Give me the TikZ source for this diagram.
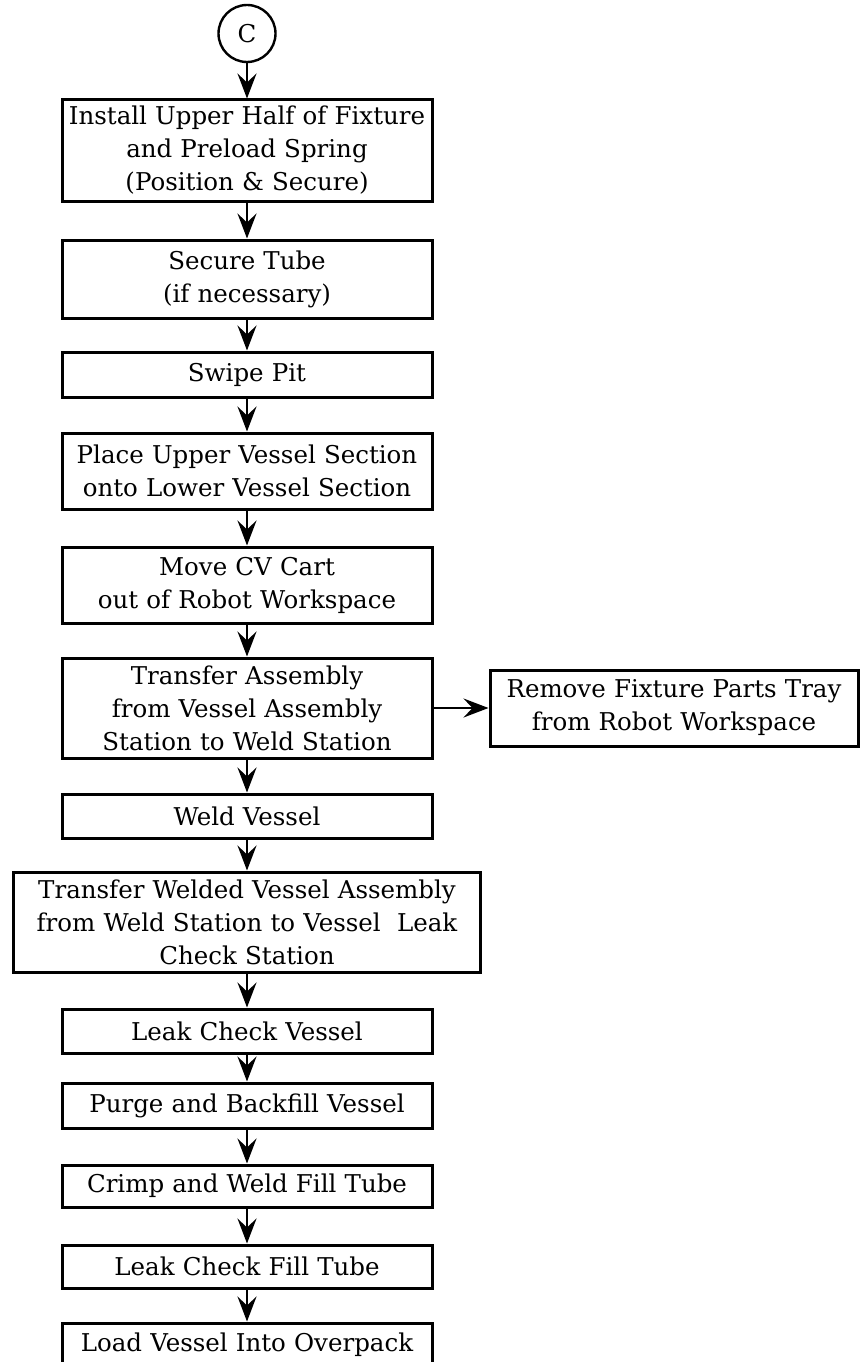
\documentclass[tikz,border=0pt]{standalone}
\usepackage{fontspec}
\setmainfont{DejaVu Serif}
\usepackage{tikz}
\usetikzlibrary{shapes,arrows.meta}
\tikzstyle{block} = [rectangle, draw, line width=3pt, text width=360pt, text centered,
    inner xsep=5pt, inner ysep=0pt, minimum height=44pt, font=\fontsize{24.5}{33}\selectfont]
\tikzstyle{wideblock} = [block, text width=457pt]
\tikzstyle{connector} = [circle, draw, line width=2.4pt, minimum size=57pt, inner sep=0pt,
    font=\fontsize{24.5}{33}\selectfont]
\tikzstyle{line} = [draw, line width=2.4pt, -{Stealth[length=25pt, width=19pt, inset=9pt]}]

\begin{document}
\begin{tikzpicture}[x=1pt, y=1pt, node distance=100pt, auto]
    \useasboundingbox (0,0) rectangle (860,-1362);
    \clip (0,0) rectangle (860,-1362);
    % Place nodes
    \node [connector] (conC) at (247,-33.5) {C};
    \node [block, below of=conC, node distance=117pt, minimum height=101pt] (upper) {Install Upper Half of Fixture\\ and Preload Spring\\ (Position \& Secure)};
    \node [block, below of=upper, node distance=128.5pt, minimum height=78pt] (tube) {Secure Tube\\ (if necessary)};
    \node [block, below of=tube, node distance=95.5pt, minimum height=45pt] (swipe) {Swipe Pit};
    \node [block, below of=swipe, node distance=96.5pt, minimum height=76pt] (place) {Place Upper Vessel Section\\ onto Lower Vessel Section};
    \node [block, below of=place, node distance=114pt, minimum height=76pt] (cart) {Move CV Cart\\ out of Robot Workspace};
    \node [block, below of=cart, node distance=123pt, minimum height=100pt] (transfer) {Transfer Assembly\\ from Vessel Assembly\\ Station to Weld Station};
    \node [block, right of=transfer, node distance=427pt, text width=358pt, minimum height=76pt] (tray) {Remove Fixture Parts Tray\\ from Robot Workspace};
    \node [block, below of=transfer, node distance=108pt, minimum height=44pt] (weld) {Weld Vessel};
    \node [wideblock, below of=weld, node distance=106pt, minimum height=100pt] (welded) {Transfer Welded Vessel Assembly\\ from Weld Station to Vessel\ \ Leak\\ Check Station};
    \node [block, below of=welded, node distance=109pt, minimum height=44pt] (leak) {Leak Check Vessel};
    \node [block, below of=leak, node distance=74.5pt, minimum height=45pt] (purge) {Purge and Backfill Vessel};
    \node [block, below of=purge, node distance=80.5pt, minimum height=42pt] (crimp) {Crimp and Weld Fill Tube};
    \node [block, below of=crimp, node distance=80.5pt, minimum height=43pt] (filltube) {Leak Check Fill Tube};
    \node [block, below of=filltube, node distance=78.5pt, minimum height=44pt] (load) {Load Vessel Into Overpack};
    % Draw edges
    \path [line] (conC) -- (upper);
    \path [line] (upper) -- (tube);
    \path [line] (tube) -- (swipe);
    \path [line] (swipe) -- (place);
    \path [line] (place) -- (cart);
    \path [line] (cart) -- (transfer);
    \path [line] (transfer) -- (tray);
    \path [line] (transfer) -- (weld);
    \path [line] (weld) -- (welded);
    \path [line] (welded) -- (leak);
    \path [line] (leak) -- (purge);
    \path [line] (purge) -- (crimp);
    \path [line] (crimp) -- (filltube);
    \path [line] (filltube) -- (load);
\end{tikzpicture}
\end{document}
